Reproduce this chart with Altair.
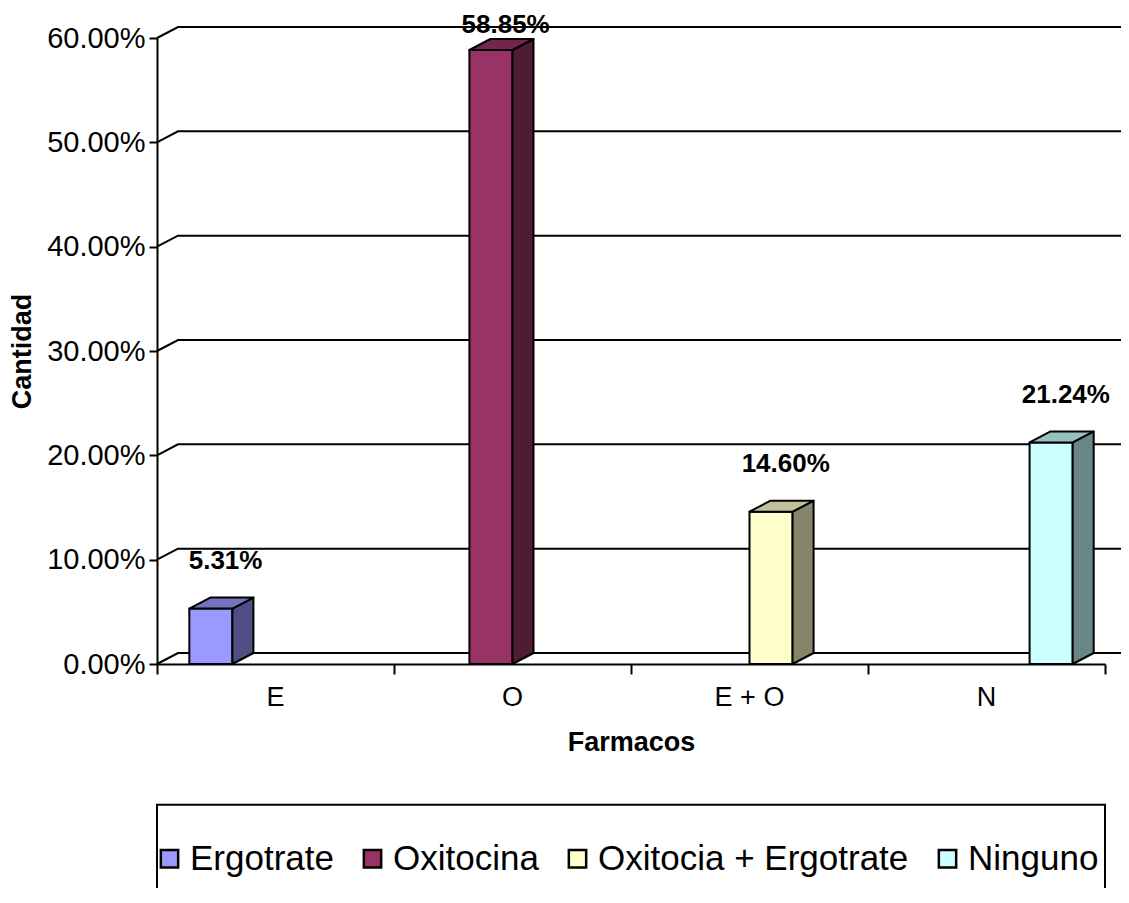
import altair as alt
import pandas as pd

# ---------------- data ----------------
categories = ["E", "O", "E + O", "N"]
series = ["Ergotrate", "Oxitocina", "Oxitocia + Ergotrate", "Ninguno"]
values = [5.31, 58.85, 14.60, 21.24]
value_labels = ["5.31%", "58.85%", "14.60%", "21.24%"]
front_colors = ["#9999FF", "#993366", "#FFFFCC", "#CCFFFF"]
side_colors = ["#4F4F85", "#501B35", "#85856A", "#6A8585"]
top_colors = ["#7373C0", "#73264D", "#BFBF99", "#99BFBF"]
y_ticks = [0, 10, 20, 30, 40, 50, 60]

# ---------------- layout ----------------
W, H = 948, 626
XMAX, YMAX = len(categories), 60
DX = 21 * XMAX / W      # 3-D depth, in x data units
DY = 11 * YMAX / H      # 3-D depth, in y data units
GAP = 1.5               # gap width 150 %
slot = 1 / (len(series) + GAP)
FONT = "Liberation Sans"

xs = alt.Scale(domain=[0, XMAX], nice=False, zero=False)
ys = alt.Scale(domain=[0, YMAX], nice=False, zero=False)

x_axis = alt.Axis(values=list(range(XMAX + 1)), labels=False, grid=False,
                  tickSize=10, tickWidth=2, tickColor="black",
                  domainColor="black", domainWidth=2,
                  title="Farmacos", titleFont=FONT, titleFontSize=27,
                  titleFontWeight="bold", titleColor="black",
                  titleX=W / 2, titleY=78, titleBaseline="middle")
y_axis = alt.Axis(values=y_ticks, labelExpr="format(datum.value, '.2f') + '%'",
                  grid=False, tickSize=8, tickWidth=2, tickColor="black",
                  domainColor="black", domainWidth=2,
                  labelFont=FONT, labelFontSize=29, labelColor="black", labelPadding=4,
                  title="Cantidad", titleFont=FONT, titleFontSize=27,
                  titleFontWeight="bold", titleColor="black",
                  titleX=-135, titleY=H / 2, titleAngle=270, titleBaseline="middle")


def X(field="x"):
    return alt.X(f"{field}:Q", scale=xs, axis=x_axis)


def Y(field="y"):
    return alt.Y(f"{field}:Q", scale=ys, axis=y_axis)


# back wall grid lines (with side-wall diagonals)
grid_rows = []
for t in y_ticks:
    grid_rows += [
        {"g": t, "o": 0, "x": 0, "y": t},
        {"g": t, "o": 1, "x": DX, "y": t + DY},
        {"g": t, "o": 2, "x": XMAX + DX, "y": t + DY},
    ]
grid = alt.Chart(pd.DataFrame(grid_rows)).mark_line(
    color="black", strokeWidth=2, clip=False
).encode(x=X(), y=Y(), detail="g:N", order="o:Q")

# bars
bars, sides, tops, labs = [], [], [], []
for i, (c, s, v, lab) in enumerate(zip(categories, series, values, value_labels)):
    x0 = i + GAP * slot / 2 + i * slot
    x1 = x0 + slot
    bars.append({"series": s, "x": x0, "x2": x1, "y": 0, "y2": v})
    sides += [{"series": s, "x": x1, "y": 0, "y2": v},
              {"series": s, "x": x1 + DX, "y": DY, "y2": v + DY}]
    tops += [{"series": s, "y": v, "x": x0, "x2": x1},
             {"series": s, "y": v + DY, "x": x0 + DX, "x2": x1 + DX}]
    labs.append({"lab": lab, "x": (x0 + x1) / 2 + DX * 0.7, "v": v})

front = alt.Chart(pd.DataFrame(bars)).mark_rect(
    stroke="black", strokeWidth=2, strokeJoin="round"
).encode(
    x=X(), x2="x2:Q", y=Y(), y2="y2:Q",
    color=alt.Color("series:N", scale=alt.Scale(domain=series, range=front_colors),
                    legend=alt.Legend(
                        orient="none", legendX=-5, legendY=803, direction="horizontal",
                        title=None, symbolType="square", symbolSize=300,
                        symbolStrokeColor="black", symbolStrokeWidth=2.5,
                        labelFont=FONT, labelFontSize=35, labelColor="black",
                        labelOffset=3, columnPadding=21, symbolOpacity=1,
                        labelLimit=600)),
)

side = alt.Chart(pd.DataFrame(sides)).mark_area(
    stroke="black", strokeWidth=2, strokeJoin="round", opacity=1
).encode(
    x=X(), y=Y(), y2="y2:Q", detail="series:N",
    fill=alt.Fill("series:N", scale=alt.Scale(domain=series, range=side_colors), legend=None),
)

top = alt.Chart(pd.DataFrame(tops)).mark_area(
    orient="horizontal", stroke="black", strokeWidth=2, strokeJoin="round", opacity=1
).encode(
    y=Y(), x=X(), x2="x2:Q", detail="series:N",
    fill=alt.Fill("series:N", scale=alt.Scale(domain=series, range=top_colors), legend=None),
)

labels = alt.Chart(pd.DataFrame(labs)).transform_calculate(
    y=f"min(datum.v + {DY} + 3.5, 61.2)"
).mark_text(
    font=FONT, fontSize=26, fontWeight="bold", color="black", baseline="middle"
).encode(x=X(), y=Y(), text="lab:N")

cat_df = pd.DataFrame({"cat": categories, "x": [i + 0.5 for i in range(XMAX)], "y": [0] * XMAX})
cat_labels = alt.Chart(cat_df).mark_text(
    font=FONT, fontSize=27, color="black", baseline="middle", dy=34
).encode(x=X(), y=Y(), text="cat:N")

# legend frame (left, top, right edges; bottom runs off the picture)
frame_df = pd.DataFrame({
    "x": [0, 0, XMAX, XMAX],
    "y": [-21.9, -13.5, -13.5, -21.9],
    "o": [0, 1, 2, 3],
})
frame = alt.Chart(frame_df).mark_line(color="black", strokeWidth=2, clip=False).encode(
    x=X(), y=Y(), order="o:Q")

chart = alt.layer(grid, front, side, top, labels, cat_labels, frame).resolve_scale(
    color="independent", fill="independent"
).properties(
    width=W, height=H,
    autosize=alt.AutoSizeParams(type="none"),
    padding={"left": 149, "top": 30, "right": 16, "bottom": 224},
    background="white",
).configure_view(stroke=None)

chart.save("out.html", embed_options={"renderer": "svg", "actions": False})
